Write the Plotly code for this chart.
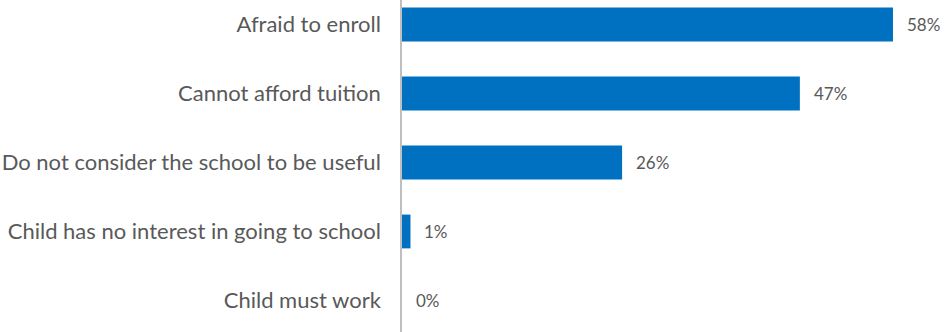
import plotly.graph_objects as go

# Reasons children are not enrolled in school (share of respondents, %)
reasons = [
    "Afraid to enroll",
    "Cannot afford tuition",
    "Do not consider the school to be useful",
    "Child has no interest in going to school",
    "Child must work",
]
shares = [58, 47, 26, 1, 0]

BAR_COLOR = "#0070C0"
TEXT_COLOR = "#595959"
FONT = "Lato, 'Open Sans', sans-serif"

fig = go.Figure()
fig.add_trace(
    go.Bar(
        x=shares,
        y=reasons,
        orientation="h",
        marker=dict(color=BAR_COLOR, line=dict(width=0)),
        hoverinfo="skip",
    )
)

# Value labels placed just past the end of each bar
for r, v in zip(reasons, shares):
    fig.add_annotation(
        x=v,
        y=r,
        xref="x",
        yref="y",
        text=f"{v}%",
        showarrow=False,
        xanchor="left",
        xshift=12,
        font=dict(family=FONT, size=17, color=TEXT_COLOR),
    )

fig.update_layout(
    width=948,
    height=332,
    margin=dict(l=402, r=0, t=0, b=0),
    paper_bgcolor="white",
    plot_bgcolor="white",
    bargap=0.51,
    showlegend=False,
    font=dict(family=FONT, color=TEXT_COLOR),
)
fig.update_xaxes(
    range=[0, 64.5],
    showgrid=False,
    zeroline=False,
    showticklabels=False,
    showline=False,
)
fig.update_yaxes(
    type="category",
    range=[4.457, -0.355],
    showgrid=False,
    zeroline=False,
    showline=True,
    linecolor="#BFBFBF",
    linewidth=1.5,
    ticks="",
    ticklabelstandoff=15,
    tickfont=dict(family=FONT, size=22, color=TEXT_COLOR),
)

fig.write_html("out.html")
